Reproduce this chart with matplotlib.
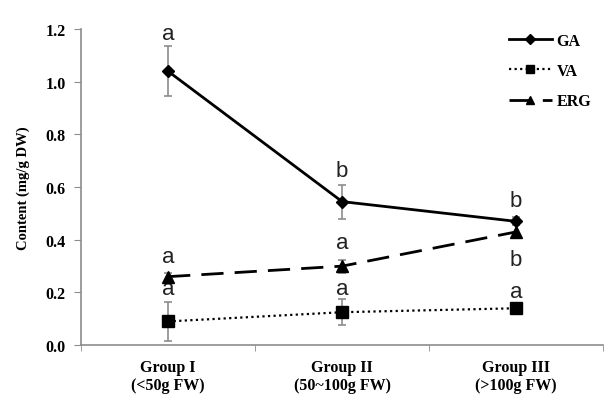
import matplotlib
matplotlib.use("Agg")
import matplotlib.pyplot as plt
from matplotlib.lines import Line2D
import numpy as np

groups = ["Group I\n(<50g FW)", "Group II\n(50~100g FW)", "Group III\n(>100g FW)"]
ga = [1.04, 0.545, 0.47]
ga_err = [0.095, 0.065, 0.015]
va = [0.09, 0.125, 0.14]
va_err = [0.075, 0.05, 0.01]
erg = [0.26, 0.30, 0.43]
erg_err = [0.015, 0.025, 0.025]

# significance letters: (group index, y, letter)
letters_ga = [(0, 1.185, "a"), (1, 0.665, "b"), (2, 0.55, "b")]
letters_erg = [(0, 0.335, "a"), (1, 0.39, "a"), (2, 0.325, "b")]
letters_va = [(0, 0.215, "a"), (1, 0.215, "a"), (2, 0.205, "a")]

SERIF = ["Liberation Serif", "DejaVu Serif"]
GRAY = "#8c8c8c"

fig = plt.figure(figsize=(6.05, 4.02), dpi=100)
ax = fig.add_axes([0.134, 0.139, 0.863, 0.786])
x = np.arange(len(groups))

styles = {
    "GA": dict(color="black", lw=2, ls="-", marker="D", ms=6),
    "VA": dict(color="black", lw=1.6, ls=(0, (1, 1.5)), marker="s", ms=8),
    "ERG": dict(color="black", lw=2, ls=(0, (8, 4)), marker="^", ms=8),
}

ekw = dict(ecolor=GRAY, elinewidth=1.2, capsize=3, capthick=1.2, zorder=3)
ax.errorbar(x, ga, yerr=ga_err, **styles["GA"], **ekw)
ax.errorbar(x, va, yerr=va_err, **styles["VA"], **ekw)
ax.errorbar(x, erg, yerr=erg_err, **styles["ERG"], **ekw)

for lst in (letters_ga, letters_erg, letters_va):
    for i, y, s in lst:
        ax.text(i, y, s, ha="center", va="center", fontsize=16,
                family=["Liberation Sans", "DejaVu Sans"], color="#222222")

ax.set_xlim(-0.5, 2.5)
ax.set_ylim(0, 1.2)
yt = np.arange(0, 1.21, 0.2)
ax.set_yticks(yt)
ax.set_yticklabels([f"{v:.1f}" for v in yt], family=SERIF, fontweight="bold", fontsize=11.5)
ax.set_xticks(x)
ax.set_xticklabels(groups, family=SERIF, fontweight="bold", fontsize=11.5)
ax.tick_params(axis="x", length=0, pad=10)
ax.set_xticks([-0.5, 0.5, 1.5, 2.5], minor=True)
ax.tick_params(axis="x", which="minor", length=4, color=GRAY, direction="out")
ax.tick_params(axis="y", length=5, color=GRAY, direction="out", pad=6)

for sp in ["top", "right"]:
    ax.spines[sp].set_visible(False)
for sp in ["left", "bottom"]:
    ax.spines[sp].set_color(GRAY)
    ax.spines[sp].set_linewidth(1.2)

ax.set_ylabel("Content (mg/g DW)", family=SERIF, fontweight="bold", fontsize=10.5,
              labelpad=11)

handles = [Line2D([], [], **{**styles[k], "ms": styles[k]["ms"] * 0.8}) for k in styles]
fig.legend(handles, list(styles), loc="upper left", bbox_to_anchor=(0.817, 0.952),
           frameon=False, prop={"family": SERIF, "weight": "bold", "size": 11.5},
           handlelength=2.7, handletextpad=0.3, labelspacing=0.9)

fig.savefig("out.png", dpi=100)
